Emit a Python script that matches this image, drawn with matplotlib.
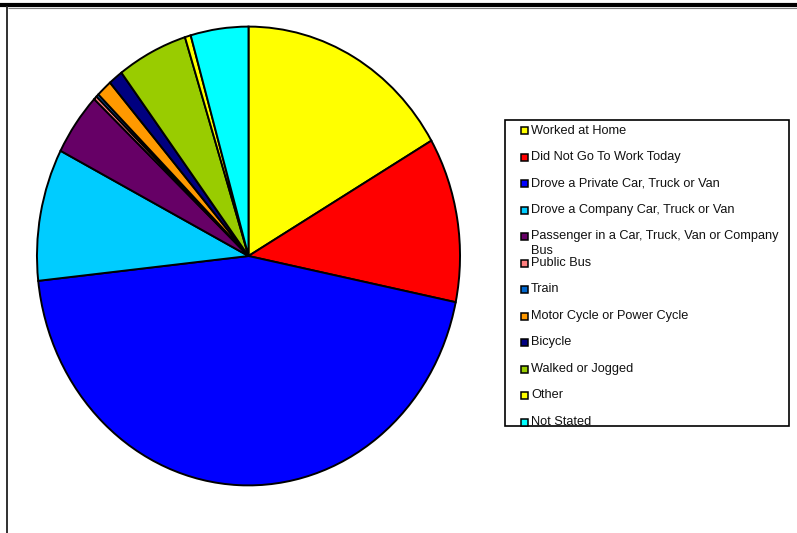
import textwrap
import matplotlib.pyplot as plt
from matplotlib.patches import Rectangle

# Journey to work categories and shares (%)
labels = ['Worked at Home', 'Did Not Go To Work Today', 'Drove a Private Car, Truck or Van',
          'Drove a Company Car, Truck or Van', 'Passenger in a Car, Truck, Van or Company Bus',
          'Public Bus', 'Train', 'Motor Cycle or Power Cycle', 'Bicycle',
          'Walked or Jogged', 'Other', 'Not Stated']
shares = [16.6, 11.6, 45.0, 9.3, 4.4, 0.25, 0.2, 1.2, 1.1, 5.4, 0.45, 4.4]
colors = ['#FFFF00', '#FF0000', '#0000FF', '#00CCFF', '#660066', '#FF8080',
          '#0066CC', '#FF9900', '#000080', '#99CC00', '#FFFF00', '#00FFFF']

W, H = 797, 533
fig = plt.figure(figsize=(W / 100, H / 100), dpi=100)
plt.rcParams['font.family'] = ['Liberation Sans', 'DejaVu Sans']

# overlay axes in pixel coordinates for frame and legend
ov = fig.add_axes([0, 0, 1, 1])
ov.set_xlim(0, W)
ov.set_ylim(H, 0)
ov.axis('off')
ov.plot([0, W], [4.5, 4.5], color='black', lw=3.0, solid_capstyle='butt')
ov.plot([8, W], [7.5, 7.5], color='#808080', lw=0.8, solid_capstyle='butt')
ov.plot([7.5, 7.5], [6, H], color='#202020', lw=1.3, solid_capstyle='butt')

# pie (slightly taller than wide, as in the original)
left, right, top, bottom = 35.5, 461.5, 25, 487
ax = fig.add_axes([left / W, (H - bottom) / H, (right - left) / W, (bottom - top) / H])
ax.pie(shares, colors=colors, startangle=90, counterclock=False,
       wedgeprops=dict(edgecolor='black', linewidth=1.4))
ax.set_aspect('auto')
ax.set_xlim(-1.007, 1.007)
ax.set_ylim(-1.007, 1.007)

# legend box
box = Rectangle((505, 120), 284, 306, facecolor='white', edgecolor='black', lw=1.2)
ov.add_patch(box)
y0, step = 130.5, 26.5
for i, (lab, c) in enumerate(zip(labels, colors)):
    y = y0 + i * step
    ov.add_patch(Rectangle((521.5, y - 3.5), 7, 7, facecolor=c, edgecolor='black', lw=1.1))
    for j, line in enumerate(textwrap.wrap(lab, 41)):
        t = ov.text(531, y + j * 14, line, fontsize=9.2, va='center', ha='left', color='#111111')
        t.set_clip_path(box)

fig.savefig('out.png', dpi=100)
